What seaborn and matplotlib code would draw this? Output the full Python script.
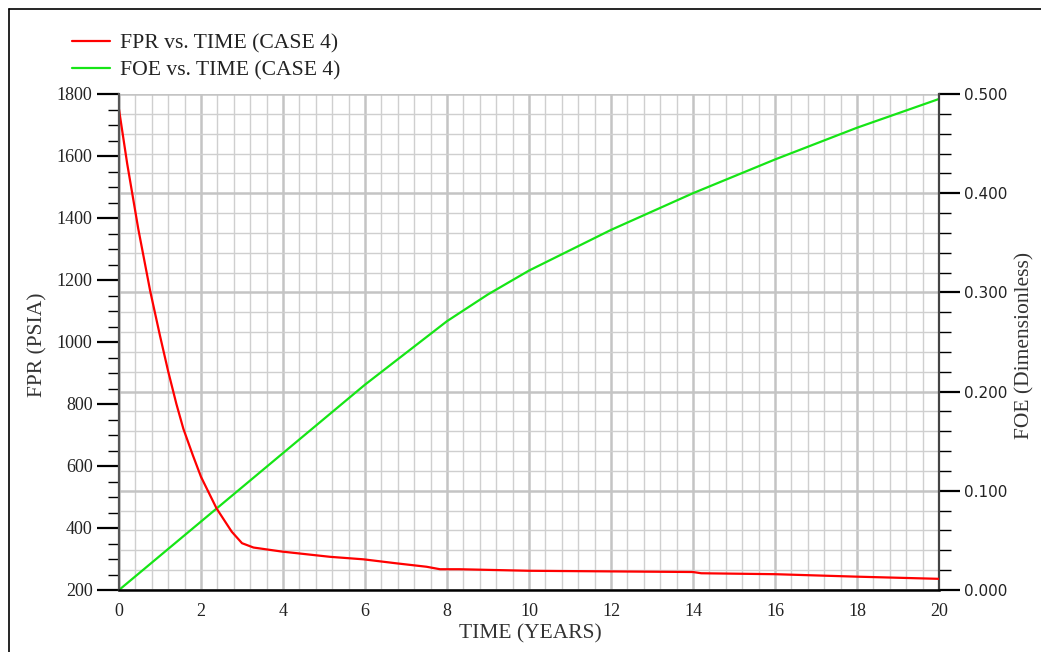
import numpy as np
import pandas as pd
import matplotlib
matplotlib.use("Agg")
import matplotlib.pyplot as plt
import seaborn as sns
from matplotlib.ticker import MultipleLocator, FormatStrFormatter
from matplotlib.lines import Line2D

# ---- data ----
time_fpr = [0, 0.2, 0.47, 0.76, 1.0, 1.2, 1.4, 1.57, 1.8, 2.0, 2.38, 2.75, 3.0, 3.28, 3.97,
            5.15, 5.96, 6.77, 7.5, 7.83, 8.3, 10, 12, 14, 14.2, 16, 18, 20]
fpr = [1750, 1575, 1365, 1165, 1020, 905, 800, 720, 635, 565, 463, 388, 351, 337, 324,
       307, 299, 286, 275, 267, 267, 262, 260, 258, 254, 251, 243, 236]
time_foe = [0, 2, 4, 6, 8, 9, 10, 12, 14, 16, 18, 20]
foe = [0, 0.069, 0.138, 0.207, 0.271, 0.298, 0.322, 0.363, 0.400, 0.434, 0.466, 0.495]
series_labels = ["FPR vs. TIME (CASE 4)", "FOE vs. TIME (CASE 4)"]

sns.set_style("white")
plt.rcParams['font.family'] = ['Liberation Serif', 'DejaVu Serif']

W, H = 1041, 652
fig = plt.figure(figsize=(W / 100, H / 100), dpi=100)
pos = [119 / W, 1 - 590 / H, (939 - 119) / W, (590 - 94) / H]

# grid axes (behind everything)
gax = fig.add_axes(pos, zorder=0)
gax.set_xlim(0, 20)
gax.set_ylim(0, 0.5)
gax.xaxis.set_major_locator(MultipleLocator(2))
gax.xaxis.set_minor_locator(MultipleLocator(0.4))
gax.yaxis.set_major_locator(MultipleLocator(0.1))
gax.yaxis.set_minor_locator(MultipleLocator(0.02))
gax.grid(which='major', color='#c4c4c4', lw=1.8)
gax.grid(which='minor', color='#cfcfcf', lw=1.0)
gax.tick_params(which='both', length=0, labelleft=False, labelbottom=False)
for s in gax.spines.values():
    s.set_visible(False)

ax = fig.add_axes(pos, zorder=2)
ax.patch.set_visible(False)
ax2 = ax.twinx()
ax2.set_zorder(1)
ax2.patch.set_visible(False)

df1 = pd.DataFrame({"t": time_fpr, "v": fpr})
df2 = pd.DataFrame({"t": time_foe, "v": foe})
sns.lineplot(data=df2, x="t", y="v", ax=ax2, color='#16e516', lw=1.6, legend=False)
sns.lineplot(data=df1, x="t", y="v", ax=ax, color='#ff0000', lw=1.6, legend=False)

ax.set_xlim(0, 20)
ax.set_ylim(200, 1800)
ax2.set_ylim(0, 0.5)

ax.xaxis.set_major_locator(MultipleLocator(2))
ax.xaxis.set_minor_locator(MultipleLocator(0.4))
ax.yaxis.set_major_locator(MultipleLocator(200))
ax.yaxis.set_minor_locator(MultipleLocator(50))
ax2.yaxis.set_major_locator(MultipleLocator(0.1))
ax2.yaxis.set_minor_locator(MultipleLocator(0.02))
ax2.yaxis.set_major_formatter(FormatStrFormatter('%.3f'))

ax.tick_params(axis='y', which='major', direction='out', length=16, width=1.6,
               color='black', labelsize=13, pad=3, labelcolor='#222222')
ax.tick_params(axis='y', which='minor', direction='out', length=8, width=1.0, color='black')
ax.tick_params(axis='x', which='major', direction='out', length=7, width=1.6,
               color='black', labelsize=13, pad=2, labelcolor='#222222')
ax.tick_params(axis='x', which='minor', direction='out', length=4, width=1.0, color='black')
ax2.tick_params(axis='y', which='major', direction='out', length=15, width=1.6,
                color='black', labelsize=11, pad=3, labelcolor='#222222')
ax2.tick_params(axis='y', which='minor', direction='out', length=8.5, width=1.0, color='black')
for lab in ax2.get_yticklabels():
    lab.set_family(['DejaVu Sans'])

for a in (ax, ax2):
    a.spines['top'].set_visible(False)
ax.spines['left'].set_color('#555555')
ax.spines['left'].set_linewidth(1.6)
ax.spines['bottom'].set_color('black')
ax.spines['bottom'].set_linewidth(1.8)
ax.spines['right'].set_visible(False)
ax2.spines['left'].set_visible(False)
ax2.spines['bottom'].set_visible(False)
ax2.spines['right'].set_color('#444444')
ax2.spines['right'].set_linewidth(1.6)

ax.set_xlabel("")
ax.set_ylabel("")
ax2.set_ylabel("")
fig.text(530 / W, 1 - 634 / H, "TIME (YEARS)", ha='center', va='center',
         fontsize=15.5, color='#333333')
fig.text(38 / W, 1 - 345 / H, "FPR (PSIA)", ha='center', va='center',
         rotation=90, fontsize=15.5, color='#333333')
fig.text(1025 / W, 1 - 345 / H, "FOE (Dimensionless)", ha='center', va='center',
         rotation=90, fontsize=15.5, color='#333333')

handles = [Line2D([], [], color='#ff0000', lw=1.6),
           Line2D([], [], color='#16e516', lw=1.6)]
fig.legend(handles, series_labels, loc='upper left',
           bbox_to_anchor=(72 / W, 1 - 33 / H), frameon=False,
           borderpad=0, borderaxespad=0,
           fontsize=15.6, handlelength=1.75, handletextpad=0.46,
           labelspacing=0.35, labelcolor='#222222')

# figure frame (left/top lines)
fig.add_artist(Line2D([9 / W, 9 / W], [0, 1 - 9 / H], transform=fig.transFigure,
                      color='black', lw=1.2))
fig.add_artist(Line2D([9 / W, 1], [1 - 9 / H, 1 - 9 / H], transform=fig.transFigure,
                      color='black', lw=1.2))

fig.savefig("out.png", dpi=100)
